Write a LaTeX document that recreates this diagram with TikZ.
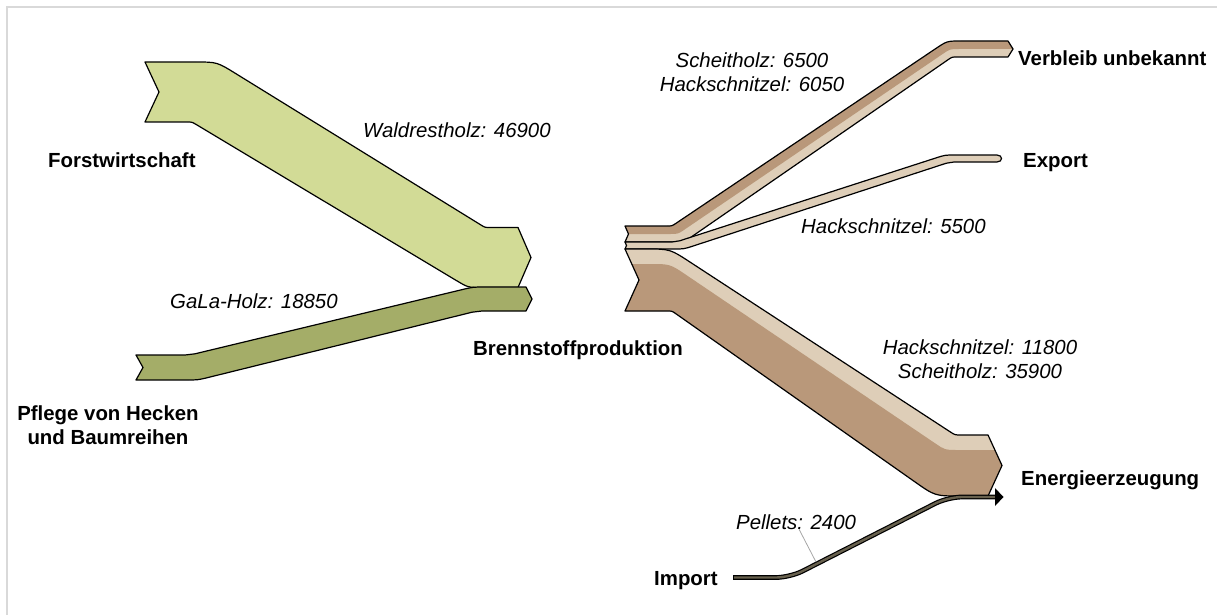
\documentclass[tikz,border=0pt]{standalone}
\usepackage{fontspec}
\setmainfont{Liberation Sans}
\usepackage{tikz}
\usetikzlibrary{calc}
\definecolor{forstgreen}{RGB}{210,219,150}
\definecolor{galagreen}{RGB}{164,173,104}
\definecolor{woodlight}{RGB}{222,206,184}
\definecolor{wooddark}{RGB}{185,152,122}
\definecolor{pelletbrown}{RGB}{104,97,78}
\definecolor{framegray}{RGB}{217,217,217}
\tikzstyle{place} = [font=\fontsize{20.4}{24}\selectfont\bfseries, inner sep=0pt]
\tikzstyle{amount} = [font=\fontsize{20.4}{24}\selectfont\itshape, inner sep=0pt]
\tikzstyle{flow} = [draw=black, line width=1.2pt, line join=round]
\tikzstyle{leader} = [draw=black!35, line width=0.8pt]
\tikzset{
  bendat/.style n args={4}{insert path={-- ($(#1)!#4!(#2)$) .. controls (#1) .. ($(#1)!#4!(#3)$)}}
}

\begin{document}
\begin{tikzpicture}[x=1pt, y=-1pt]
\useasboundingbox (0,0) rectangle (1217,615);
\draw [framegray, line width=2pt] (7,615) -- (7,7) -- (1217,7);

% corners of the bands
\coordinate (fA) at (217,62);
\coordinate (fB) at (485,227.5);
\coordinate (fC) at (468,287.5);
\coordinate (fD) at (192,122);
\coordinate (gA) at (190,355);
\coordinate (gB) at (473,287);
\coordinate (gC) at (477,311);
\coordinate (gD) at (198,380);
\coordinate (vA) at (672,226);
\coordinate (vB) at (947,41);
\coordinate (vC) at (952,57);
\coordinate (vD) at (684,242);
\coordinate (vM) at (678,234);
\coordinate (vN) at (950,49);
\coordinate (eA) at (676,242);
\coordinate (eB) at (945,155);
\coordinate (eC) at (950,162);
\coordinate (eD) at (684,249);
\coordinate (nA) at (670,249);
\coordinate (nB) at (955,435);
\coordinate (nC) at (935,496);
\coordinate (nD) at (672,311);
\coordinate (nM) at (670,264);
\coordinate (nN) at (945,450);

% Forstwirtschaft
\path [flow, fill=forstgreen] (145,62) [bendat={fA}{145,62}{fB}{22pt}] [bendat={fB}{fA}{518,227.5}{5pt}]
    -- (518,227.5) -- (531,257.5) -- (518,287.5)
    [bendat={fC}{518,287.5}{fD}{14pt}] [bendat={fD}{fC}{145,122}{5pt}] -- (145,122) -- (159,92) -- cycle;

% Hecken und Baumreihen
\path [flow, fill=galagreen] (136,355) [bendat={gA}{136,355}{gB}{5pt}] [bendat={gB}{gA}{526,287}{12pt}]
    -- (526,287) -- (532,299) -- (526,311)
    [bendat={gC}{526,311}{gD}{5pt}] [bendat={gD}{gC}{136,380}{12pt}] -- (136,380) -- (143,367.5) -- cycle;

% Verbleib unbekannt
\path [save path=\verbleibband] (625,226) [bendat={vA}{625,226}{vB}{5pt}] [bendat={vB}{vA}{1008,41}{14pt}]
    -- (1008,41) -- (1013,49) -- (1008,57)
    [bendat={vC}{1008,57}{vD}{5pt}] [bendat={vD}{vC}{625,242}{12pt}] -- (625,242) -- (628.5,234) -- cycle;
\fill [woodlight, use path=\verbleibband];
\begin{scope}
  \clip [use path=\verbleibband];
  \fill [wooddark] (600,234) [bendat={vM}{600,234}{vN}{8pt}] [bendat={vN}{vM}{1030,49}{9pt}]
      -- (1030,49) -- (1030,20) -- (600,20) -- cycle;
\end{scope}
\draw [flow, use path=\verbleibband];

% Export
\path [flow, fill=woodlight] (625,242) [bendat={eA}{625,242}{eB}{4pt}] [bendat={eB}{eA}{997,155}{10pt}]
    -- (997,155) .. controls (1003,155) and (1003,162) .. (997,162)
    [bendat={eC}{997,162}{eD}{4pt}] [bendat={eD}{eC}{625,249}{10pt}] -- (625,249) -- (626.5,245.5) -- cycle;

% Energieerzeugung
\path [save path=\energieband] (625,249) [bendat={nA}{625,249}{nB}{24pt}] [bendat={nB}{nA}{988,435}{6pt}]
    -- (988,435) -- (1002,465.5) -- (988,496)
    [bendat={nC}{988,496}{nD}{25pt}] [bendat={nD}{nC}{625,311}{5pt}] -- (625,311) -- (639,280) -- cycle;
\fill [woodlight, use path=\energieband];
\begin{scope}
  \clip [use path=\energieband];
  \fill [wooddark] (600,264) [bendat={nM}{600,264}{nN}{20pt}] [bendat={nN}{nM}{1030,450}{12pt}]
      -- (1030,450) -- (1030,520) -- (600,520) -- cycle;
\end{scope}
\draw [flow, use path=\energieband];

% Import
\coordinate (importstart) at (733,577.5);
\coordinate (importend) at (996,497);
\draw [line width=4.8pt, rounded corners=14pt] (importstart) -- (790,577.5) -- (948,497) -- (importend);
\draw [pelletbrown, line width=2.4pt, rounded corners=14pt] ([xshift=1pt]importstart) -- (790,577.5) -- (948,497) -- ([xshift=-1pt]importend);
\fill (995,488) -- (1003.5,497) -- (995,506) -- cycle;

% labels
\node (forst) [place, anchor=base west] at (48,167) {Forstwirtschaft};
\node (hecken) [place, align=center] at (108,425) {Pflege von Hecken\\und Baumreihen};
\node (brenn) [place, anchor=base west] at (473,355) {Brennstoffproduktion};
\node (verbleib) [place, anchor=base west] at (1018,66) {Verbleib unbekannt};
\node (export) [place, anchor=base west] at (1023,167) {Export};
\node (energie) [place, anchor=base west] at (1021,485) {Energieerzeugung};
\node (import) [place, anchor=base west] at (654,585) {Import};
\node (waldrest) [amount, anchor=base west] at (363,138) {Waldrestholz: 46900};
\node (gala) [amount, anchor=base west] at (170,308) {GaLa-Holz: 18850};
\node (verbleibamount) [amount, align=center] at (752,72) {Scheitholz: 6500\\Hackschnitzel: 6050};
\node (exportamount) [amount, anchor=base west] at (801,233) {Hackschnitzel: 5500};
\node (energieamount) [amount, align=center] at (980,359) {Hackschnitzel: 11800\\Scheitholz: 35900};
\node (pellets) [amount, anchor=base west] at (736,529) {Pellets: 2400};
\coordinate (pelletsfoot) at (816,562);
\draw [leader] ([xshift=3pt]pellets.south) -- (pelletsfoot);
\end{tikzpicture}
\end{document}
